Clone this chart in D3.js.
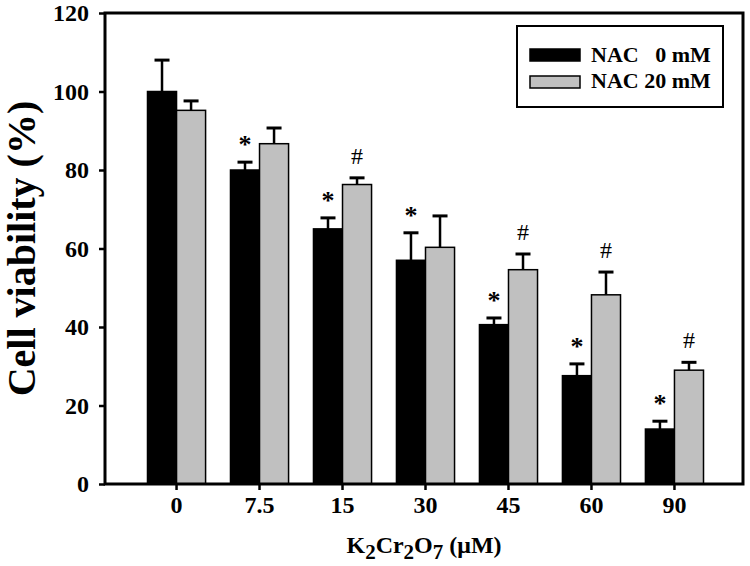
<!DOCTYPE html>
<html>
<head>
<meta charset="utf-8">
<script src="https://cdn.jsdelivr.net/npm/d3@7"></script>
<style>
  html, body { margin: 0; padding: 0; background: #fff; }
  svg { display: block; }
  text { font-family: "Liberation Serif", "Times New Roman", serif; fill: #000; }
</style>
</head>
<body>
<svg id="chart" width="750" height="566"></svg>
<script>
// ---- data ----
const categories = ["0", "7.5", "15", "30", "45", "60", "90"];
const seriesNames = ["NAC\u00a0\u00a0\u00a00 mM", "NAC 20 mM"];
const nac0 = [100, 80, 65, 57, 40.6, 27.6, 14];
const nac0Err = [8, 2, 2.8, 7, 1.7, 3, 2];
const nac20 = [95.2, 86.7, 76.3, 60.3, 54.6, 48.2, 29];
const nac20Err = [2.4, 4, 1.7, 8, 4, 5.8, 2];
const sig0 = ["", "*", "*", "*", "*", "*", "*"];
const sig20 = ["", "", "#", "", "#", "#", "#"];
const yTicks = [0, 20, 40, 60, 80, 100, 120];

// ---- layout ----
const plotL = 105, plotR = 743, plotT = 13, plotB = 484;
const colors = ["#000000", "#c0c0c0"];

const svg = d3.select("#chart");

const y = d3.scaleLinear().domain([0, 120]).range([plotB, plotT]);
const x0 = d3.scaleBand().domain(categories).range([106, 745]).paddingInner(0.3).paddingOuter(0.5);
const x1 = d3.scaleBand().domain([0, 1]).range([0, x0.bandwidth()]);

const rows = categories.map((c, i) => ({
  cat: c,
  vals: [
    { s: 0, v: nac0[i], e: nac0Err[i], sig: sig0[i] },
    { s: 1, v: nac20[i], e: nac20Err[i], sig: sig20[i] }
  ]
}));

// bars
const g = svg.append("g");
const groups = g.selectAll("g.grp").data(rows).join("g")
  .attr("class", "grp")
  .attr("transform", d => `translate(${x0(d.cat)},0)`);

groups.selectAll("line.err").data(d => d.vals).join("line")
  .attr("class", "err")
  .attr("x1", d => x1(d.s) + x1.bandwidth() / 2)
  .attr("x2", d => x1(d.s) + x1.bandwidth() / 2)
  .attr("y1", d => y(d.v))
  .attr("y2", d => y(d.v + d.e))
  .attr("stroke", "#000").attr("stroke-width", 2.5);
groups.selectAll("line.cap").data(d => d.vals).join("line")
  .attr("class", "cap")
  .attr("x1", d => x1(d.s) + x1.bandwidth() / 2 - 7.5)
  .attr("x2", d => x1(d.s) + x1.bandwidth() / 2 + 7.5)
  .attr("y1", d => y(d.v + d.e))
  .attr("y2", d => y(d.v + d.e))
  .attr("stroke", "#000").attr("stroke-width", 3);

groups.selectAll("rect").data(d => d.vals).join("rect")
  .attr("x", d => x1(d.s))
  .attr("width", x1.bandwidth())
  .attr("y", d => y(d.v))
  .attr("height", d => y(0) - y(d.v))
  .attr("fill", d => colors[d.s])
  .attr("stroke", "#000").attr("stroke-width", 1.5);

// significance markers
groups.selectAll("text.sig").data(d => d.vals.filter(v => v.sig)).join("text")
  .attr("class", "sig")
  .attr("x", d => x1(d.s) + x1.bandwidth() / 2)
  .attr("y", d => y(d.v + d.e) - (d.sig === "*" ? 9 : 14))
  .attr("text-anchor", "middle")
  .style("font-size", d => d.sig === "*" ? "26px" : "24px")
  .style("font-weight", d => d.sig === "*" ? "bold" : "normal")
  .text(d => d.sig);

// axes
const yAxis = svg.append("g").attr("transform", `translate(${plotL},0)`)
  .call(d3.axisLeft(y).tickValues(yTicks).tickSize(6).tickSizeOuter(0).tickPadding(10));
const xAxis = svg.append("g").attr("transform", `translate(0,${plotB})`)
  .call(d3.axisBottom(x0).tickSize(6).tickSizeOuter(0).tickPadding(6));
[yAxis, xAxis].forEach(a => {
  a.select(".domain").remove();
  a.selectAll(".tick line").attr("stroke", "#000").attr("stroke-width", 2.5);
  a.selectAll(".tick text").style("font-size", "24px").style("font-weight", "bold")
    .style("font-family", '"Liberation Serif", "Times New Roman", serif').attr("fill", "#000");
});

// frame
svg.append("path")
  .attr("d", `M${plotL},${plotT}H${plotR}V${plotB}H${plotL}Z`)
  .attr("fill", "none").attr("stroke", "#000").attr("stroke-width", 3)
  .attr("stroke-linejoin", "miter");

// axis titles
svg.append("text")
  .attr("transform", `translate(35,${(plotT + plotB) / 2}) rotate(-90)`)
  .attr("text-anchor", "middle")
  .style("font-size", "40px").style("font-weight", "bold")
  .text("Cell viability (%)");

const xt = svg.append("text")
  .attr("x", (plotL + plotR) / 2).attr("y", 553)
  .attr("text-anchor", "middle")
  .style("font-size", "24px").style("font-weight", "bold");
xt.append("tspan").text("K");
xt.append("tspan").attr("dy", 6).style("font-size", "21px").text("2");
xt.append("tspan").attr("dy", -6).text("Cr");
xt.append("tspan").attr("dy", 6).style("font-size", "21px").text("2");
xt.append("tspan").attr("dy", -6).text("O");
xt.append("tspan").attr("dy", 6).style("font-size", "21px").text("7");
xt.append("tspan").attr("dy", -6).text(" (\u03bcM)");

// legend
const lg = svg.append("g");
lg.append("rect").attr("x", 517).attr("y", 26).attr("width", 206).attr("height", 81)
  .attr("fill", "#fff").attr("stroke", "#000").attr("stroke-width", 2);
seriesNames.forEach((name, i) => {
  lg.append("rect").attr("x", 530).attr("y", 49 + i * 27).attr("width", 50).attr("height", 12)
    .attr("fill", colors[i]).attr("stroke", "#000").attr("stroke-width", 1.5);
  lg.append("text").attr("x", 591).attr("y", 62 + i * 26)
    .style("font-size", "22px").style("font-weight", "bold")
    .text(name);
});
</script>
</body>
</html>
